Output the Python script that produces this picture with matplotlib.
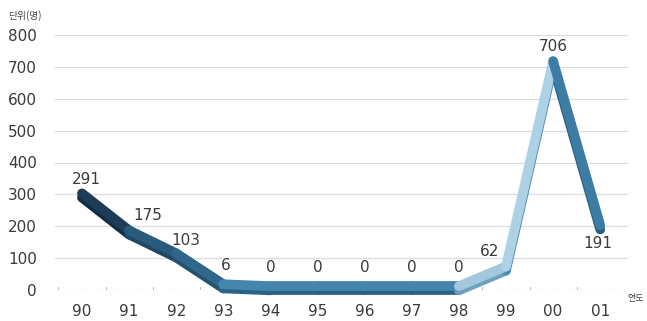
import matplotlib.pyplot as plt
from matplotlib.collections import LineCollection
import numpy as np

plt.rcParams['font.family'] = ['Noto Sans CJK KR', 'DejaVu Sans']

years = ['90', '91', '92', '93', '94', '95', '96', '97', '98', '99', '00', '01']
values = [291, 175, 103, 6, 0, 0, 0, 0, 0, 62, 706, 191]
labels = ['291', '175', '103', '6', '0', '0', '0', '0', '0', '62', '706', '191']

# segment colours, left to right
seg_colors = ['#1d3c57', '#2a5a7c', '#2f6689', '#4385ad', '#4385ad', '#4385ad',
              '#4385ad', '#4385ad', '#a3c8dd', '#aed2e5', '#3d7da3']
edge_colors = ['#142c42', '#1f4864', '#23506e', '#2b6387', '#2b6387', '#2b6387',
               '#2b6387', '#2b6387', '#6e9fbe', '#4f8db3', '#2a5f83']

fig = plt.figure(figsize=(6.47, 3.21), dpi=100)
ax = fig.add_axes([55 / 647, (321 - 290) / 321, (628 - 55) / 647, 255 / 321])

x = np.arange(len(years))
y = np.array(values, dtype=float)

ax.set_xlim(-0.573, 11.59)
ax.set_ylim(0, 800)

for v in range(100, 900, 100):
    ax.axhline(v, color='#dcdcdc', lw=0.9, zorder=1)
ax.axhline(0, color='#b0b0b0', lw=0.9, ls=(0, (1, 1.5)), zorder=1)
for i in x:
    ax.plot([i - 0.5, i - 0.5], [0, 8], color='#b8b8b8', lw=0.7, zorder=1)

pts = np.column_stack([x, y + 12])
segs = [pts[i:i + 2] for i in range(len(pts) - 1)]
low = [s - np.array([0, 13]) for s in segs]
ax.add_collection(LineCollection(low, colors=edge_colors, linewidths=7,
                                 capstyle='round', joinstyle='round', zorder=3, clip_on=False))
ax.add_collection(LineCollection(segs, colors=seg_colors, linewidths=7,
                                 capstyle='round', joinstyle='round', zorder=4, clip_on=False))

offsets = [(0.1, 55), (0.4, 58), (0.2, 52), (0.05, 70), (0, 70), (0, 70), (0, 70),
           (0, 70), (0, 70), (-0.35, 60), (0, 58), (-0.05, -45)]
for i, (lab, (dx, dy)) in enumerate(zip(labels, offsets)):
    ax.text(x[i] + dx, y[i] + dy, lab, ha='center', va='center', fontsize=11,
            color='#3a3a3a', family='DejaVu Sans', zorder=5)

ax.set_yticks(range(0, 900, 100))
ax.set_yticklabels([str(v) for v in range(0, 900, 100)], fontsize=11, color='#3a3a3a',
                   family='DejaVu Sans')
ax.set_xticks(x)
ax.set_xticklabels(years, fontsize=11, color='#3a3a3a', family='DejaVu Sans')
ax.tick_params(axis='both', length=0)
ax.tick_params(axis='y', pad=13)
ax.tick_params(axis='x', pad=10)
for s in ax.spines.values():
    s.set_visible(False)

fig.text(8 / 647, 1 - 16 / 321, '단위(명)', fontsize=7, color='#444444', va='center')
fig.text(627 / 647, 1 - 298 / 321, '연도', fontsize=6.5, color='#444444', va='center', ha='left')

fig.savefig('out.png', dpi=100)
